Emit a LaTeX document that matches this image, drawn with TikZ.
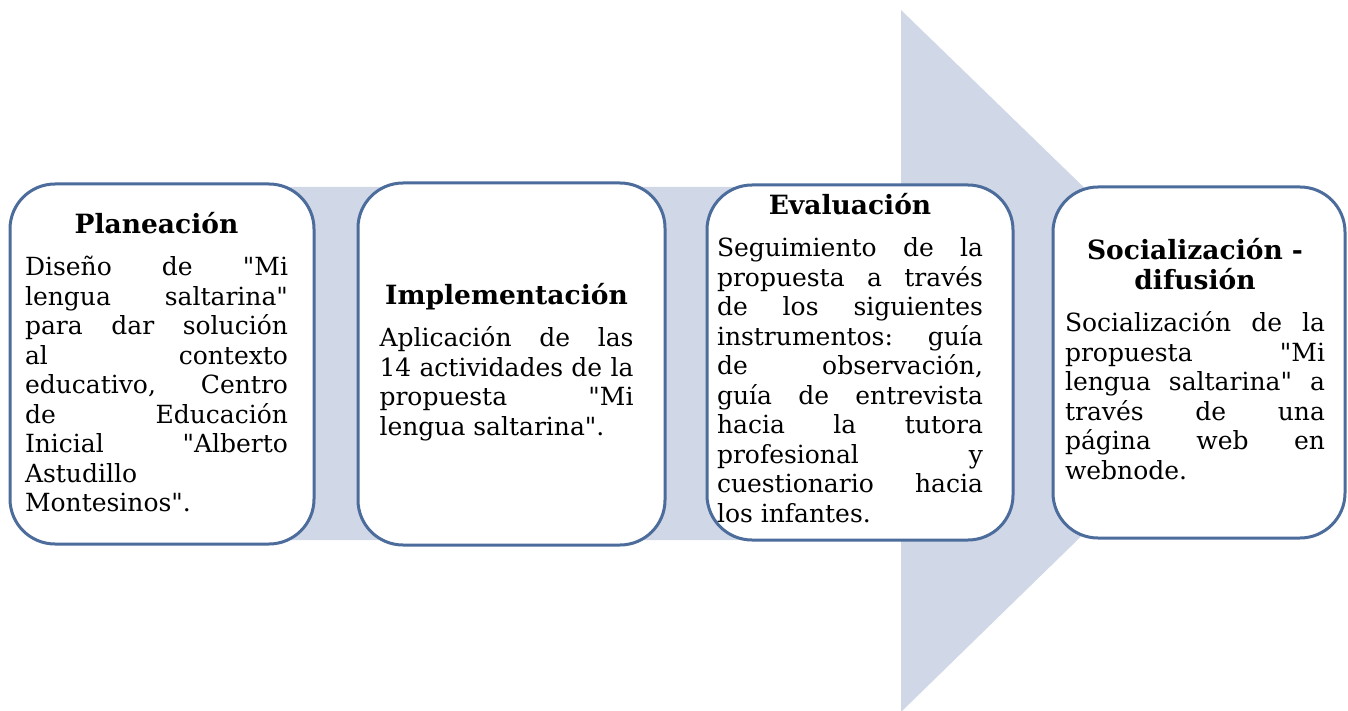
\documentclass[tikz,border=0pt]{standalone}
\usepackage{fontspec}
\usepackage{tikz}
\newfontfamily\boxfont{DejaVu Serif}
\definecolor{arrowfill}{RGB}{208,215,231}
\definecolor{boxline}{RGB}{76,108,156}
\newcommand{\heading}[1]{{\centering\bfseries\fontsize{26.5}{30}\selectfont #1\par}\vspace{13pt}}

\tikzset{
  stage/.style={rectangle, rounded corners=45pt, draw=boxline, line width=3pt, fill=white, inner sep=0pt},
  stagetext/.style={text width=#1, align=justify, inner sep=0pt,
    font={\boxfont\fontsize{25}{29.5}\selectfont\tolerance=10000\hbadness=10000\hyphenpenalty=10000}}
}

\begin{document}
\begin{tikzpicture}[x=1pt,y=-1pt]
  \useasboundingbox (0,0) rectangle (1348,711);
  % big background arrow
  \fill [arrowfill] (60,187) -- (901,187) -- (901,10) -- (1262,360) -- (901,712) -- (901,540) -- (60,540) -- cycle;

  \node (P) [stage, minimum width=304pt, minimum height=360pt] at (162,364) {};
  \node (I) [stage, minimum width=307pt, minimum height=362pt] at (511.5,364) {};
  \node (E) [stage, minimum width=306pt, minimum height=355pt] at (860,362.5) {};
  \node (S) [stage, minimum width=292pt, minimum height=351pt] at (1199,362.5) {};

  \node (Ptext) [stagetext=263pt] at (156.5,362) {\heading{Planeación}Diseño de "Mi\linebreak
    lengua saltarina"\linebreak para dar solución\linebreak al contexto\linebreak
    educativo, Centro\linebreak de Educación\linebreak Inicial "Alberto\linebreak
    Astudillo\linebreak Montesinos".};
  \node (Itext) [stagetext=254pt] at (506.5,362) {\heading{Implementación}Aplicación de las\linebreak
    14 actividades de la\linebreak propuesta "Mi\linebreak lengua saltarina".};
  \node (Etext) [stagetext=266pt] at (850,358) {\heading{Evaluación}Seguimiento de la\linebreak
    propuesta a través\linebreak de los siguientes\linebreak instrumentos: guía\linebreak
    de observación,\linebreak guía de entrevista\linebreak hacia la tutora\linebreak
    profesional y\linebreak cuestionario hacia\linebreak los infantes.};
  \node (Stext) [stagetext=260pt] at (1195,359) {\heading{Socialización -\\ difusión}Socialización de la\linebreak
    propuesta "Mi\linebreak lengua saltarina" a\linebreak través de una\linebreak
    página web en\linebreak webnode.};
\end{tikzpicture}
\end{document}
